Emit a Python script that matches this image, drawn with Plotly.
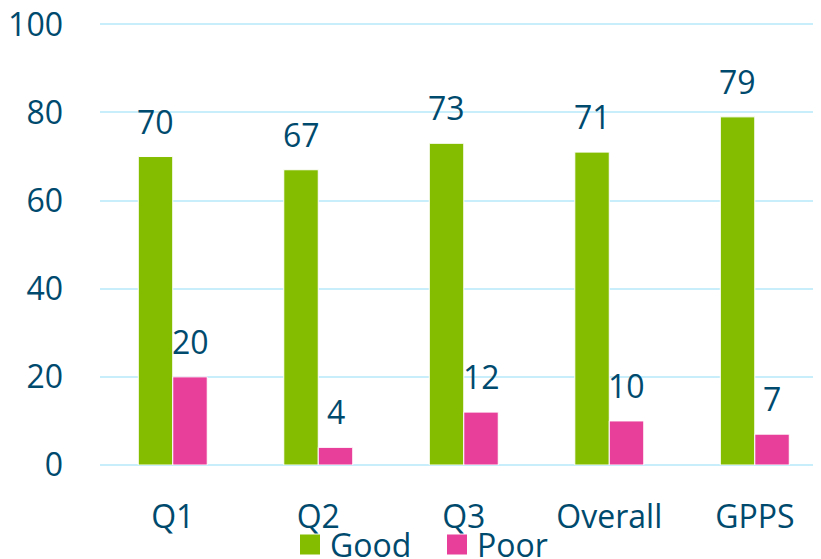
import plotly.graph_objects as go

categories = ["Q1", "Q2", "Q3", "Overall", "GPPS"]
good = [70, 67, 73, 71, 79]
poor = [20, 4, 12, 10, 7]
y_ticks = [0, 20, 40, 60, 80, 100]
series_names = ["Good", "Poor"]

GREEN = "#84BD00"
PINK = "#E8409A"
TEXT = "#004A6E"
GRID = "#C9EEFB"
FONT = "Open Sans"
FS = 32

fig = go.Figure()
fig.add_trace(go.Bar(name="Good", x=categories, y=good, showlegend=False,
                     marker=dict(color=GREEN, line=dict(color="white", width=1))))
fig.add_trace(go.Bar(name="Poor", x=categories, y=poor, showlegend=False,
                     marker=dict(color=PINK, line=dict(color="white", width=1))))
# legend entries with large square swatches
for name, col in zip(series_names, (GREEN, PINK)):
    fig.add_trace(go.Scatter(name=name, x=[None], y=[None], mode="markers",
                             marker=dict(symbol="square", size=16, color=col,
                                         line=dict(color=col, width=4))))

bar_w = 0.237
for vals, off in ((good, -bar_w / 2), (poor, bar_w / 2)):
    for i, v in enumerate(vals):
        fig.add_annotation(x=i + off, y=v, text=str(v), showarrow=False,
                           yanchor="bottom", yshift=12,
                           font=dict(size=FS, color=TEXT, family=FONT))

fig.update_layout(
    width=821, height=559,
    margin=dict(l=92, r=0, t=15, b=102, autoexpand=False),
    plot_bgcolor="white", paper_bgcolor="white",
    barmode="group", bargap=0.526, bargroupgap=0,
    font=dict(family=FONT, size=FS, color=TEXT),
    showlegend=True,
    legend=dict(orientation="h", xref="container", yref="container",
                x=282 / 821, xanchor="left", y=0.04, yanchor="middle",
                bgcolor="rgba(0,0,0,0)",
                font=dict(size=FS, color=TEXT, family=FONT),
                entrywidth=102, entrywidthmode="pixels",
                traceorder="normal", itemwidth=30, tracegroupgap=0),
)
fig.update_xaxes(range=[-0.5, 4.51], showgrid=False, showline=False, zeroline=False,
                 automargin=False, ticks="", ticklabelstandoff=30,
                 ticklabeloverflow="allow",
                 tickfont=dict(size=FS, color=TEXT))
fig.update_yaxes(range=[0, 100.3], tickvals=y_ticks, showgrid=True, gridcolor=GRID, gridwidth=2,
                 zeroline=True, zerolinecolor=GRID, zerolinewidth=2, showline=False,
                 automargin=False, ticks="", ticklabelstandoff=36,
                 ticklabeloverflow="allow",
                 tickfont=dict(size=FS, color=TEXT))

fig.write_html("out.html")
